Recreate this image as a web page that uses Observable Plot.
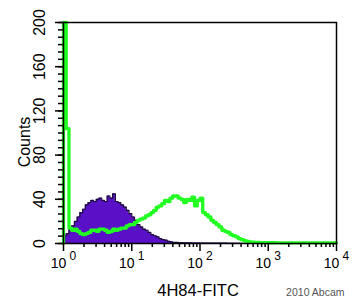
<!DOCTYPE html>
<html><head><meta charset="utf-8">
<script src="https://cdn.jsdelivr.net/npm/d3@7"></script>
<script src="https://cdn.jsdelivr.net/npm/@observablehq/plot@0.6"></script>
<style>html,body{margin:0;padding:0;background:#fff} svg{display:block}</style>
</head><body><div id="chart"></div>
<script>
// Histogram counts per channel (channels of 0.04 decade, from 10^0 to 10^4)
const purple = [
  7,9,13,16,20,24,28,31,35,37,
  39,38,40,41,39,38,43,41,45,38,
  37,35,33,30,27,24,21,17,15,13,
  12,10,8,7,6,4.5,3.5,3,2,1.5,
  1,1,0.7,0.6,0.5,0.5,0.5,0.4,0.4,0.4,
  0.4,0.3,0.3,0.3,0.3,0.3,0.3,0.3,0.3,0.3,
  0.2,0.2,0.2,0.2,0.2,0.1,0.1,0,0,0,
  0,0,0,0,0,0,0,0,0,0,
  0,0,0,0,0,0,0,0,0,0,
  0,0,0,0,0,0,0,0,0,0
];
const green = [
  250,104,14,12,13,11,9,8,9,10,
  12,12,11,13,13,12,10,11,13,12,
  13,14,14,16,17,17,19,21,22,23,
  25,26,28,30,33,34,36,39,38,41,
  43,43,41,40,37,40,39,42,34,39,
  41,28,26,24,21,19,17,15,12,11,
  10,8,7,6,4.5,3.5,2.5,2,1.5,1.2,
  1,0.9,0.8,0.8,0.8,0.7,0.7,0.7,0.6,0.6,
  0.6,0.6,0.5,0.5,0.5,0.5,0.5,0.5,0.5,0.5,
  0.5,0.5,0.5,0.5,0.5,0.5,0.5,0.5,0.5,0.5
];
const xMajorTicks = [1, 10, 100, 1000, 10000];
const xExponents = ["0", "1", "2", "3", "4"];
const yMajorTicks = [0, 40, 80, 120, 160, 200];
const xTitle = "4H84-FITC";
const yTitle = "Counts";
const credit = "2010 Abcam";

const channelStep = 0.04; // decades per channel
const n = purple.length;
const rows = d3.range(n + 1).map(i => ({
  x: 10 ** (i * channelStep),
  p: purple[Math.min(i, n - 1)],
  g: green[Math.min(i, n - 1)]
}));
const greenRows = [{x: 1, g: 0}, ...rows];

const xMinorTicks = [];
for (let d = 0; d < 4; d++) for (let k = 2; k <= 9; k++) xMinorTicks.push(k * 10 ** d);
const yMinorTicks = d3.range(31).map(i => i * 40 / 6);

const font = "'Liberation Sans', Arial, Helvetica, sans-serif";

const chart = Plot.plot({
  width: 355,
  height: 297,
  marginLeft: 63,
  marginRight: 19,
  marginTop: 22,
  marginBottom: 54,
  style: {fontFamily: font, background: "#fff", color: "#000", overflow: "visible"},
  x: {type: "log", domain: [1, 10000], label: null},
  y: {domain: [0, 200], label: null, clamp: true},
  marks: [
    Plot.areaY(rows, {x: "x", y: "p", curve: "step-after", fill: "#5a10c6"}),
    Plot.lineY(rows, {x: "x", y: "p", curve: "step-after", stroke: "#1b0b3a", strokeWidth: 1.2}),
    Plot.lineY(greenRows, {x: "x", y: "g", curve: "step-after", stroke: "#22ff22", strokeWidth: 3.3}),
    Plot.frame({stroke: "#000", strokeWidth: 1.5}),
    Plot.axisX(xMajorTicks, {tickSize: 8, tickFormat: () => "", label: null, strokeWidth: 1.5}),
    Plot.axisX(xMinorTicks, {tickSize: 4, tickFormat: () => "", label: null, strokeWidth: 1.5}),
    Plot.axisY(yMajorTicks, {tickSize: 8, tickFormat: () => "", label: null, strokeWidth: 1.5}),
    Plot.axisY(yMinorTicks, {tickSize: 5, tickFormat: () => "", label: null, strokeWidth: 1.5}),
    // x tick labels: "10" with exponent
    Plot.text(xMajorTicks, {x: d => d, text: () => "10", frameAnchor: "bottom", dy: 24, dx: -5,
      lineAnchor: "bottom", textAnchor: "middle", fontSize: 14}),
    Plot.text(xMajorTicks, {x: d => d, text: (d, i) => xExponents[i], frameAnchor: "bottom", dy: 16, dx: 6,
      lineAnchor: "bottom", textAnchor: "start", fontSize: 12}),
    // y tick labels, rotated
    Plot.text(yMajorTicks, {y: d => d, text: d => String(d), frameAnchor: "left", dx: -19,
      rotate: -90, lineAnchor: "bottom", textAnchor: "middle", fontSize: 16}),
    // axis titles
    Plot.text([yTitle], {text: d => d, frameAnchor: "left", dx: -34, dy: 9,
      rotate: -90, lineAnchor: "bottom", textAnchor: "middle", fontSize: 16}),
    Plot.text([xTitle], {text: d => d, frameAnchor: "bottom", dx: -2, dy: 52,
      lineAnchor: "bottom", textAnchor: "middle", fontSize: 16.5}),
    Plot.text([credit], {text: d => d, frameAnchor: "bottom-right", dx: 8, dy: 52,
      lineAnchor: "bottom", textAnchor: "end", fontSize: 10.5, fill: "#555"})
  ]
});
document.getElementById("chart").appendChild(chart);
</script>
</body></html>
